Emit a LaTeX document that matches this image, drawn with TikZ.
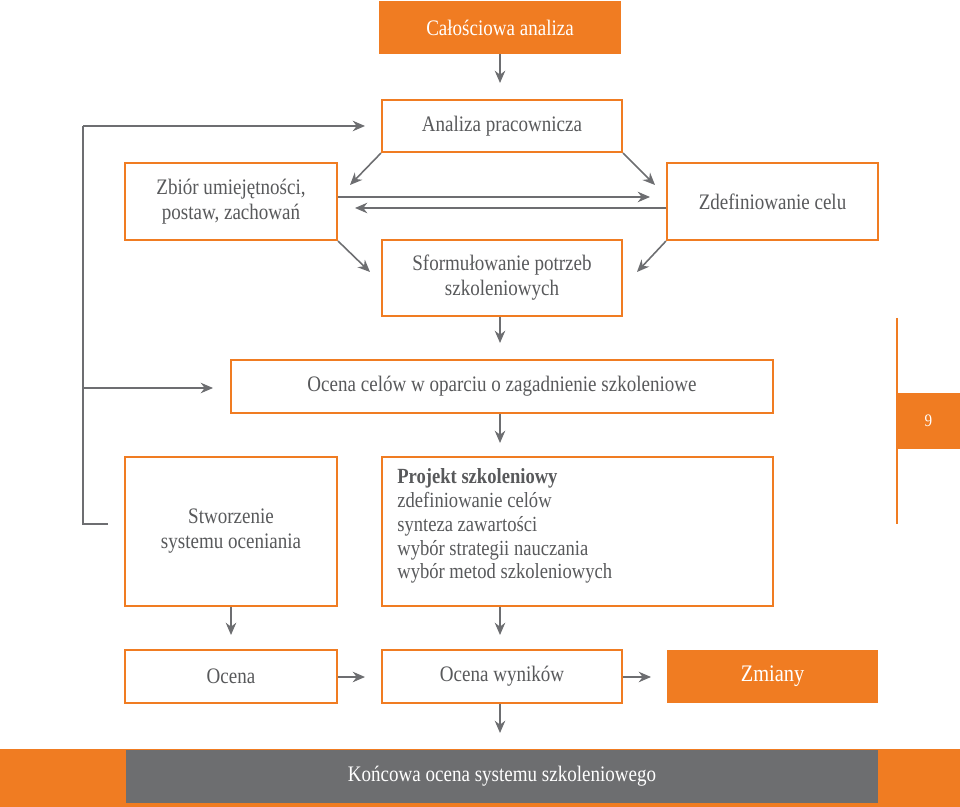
\documentclass[tikz,border=0pt]{standalone}
\usepackage{fontspec}
\setmainfont{Liberation Serif}[FakeStretch=0.86]
\usetikzlibrary{arrows.meta}
\definecolor{orng}{HTML}{F07C22}
\definecolor{txtg}{HTML}{58595B}
\definecolor{arrg}{HTML}{6D6E71}
\definecolor{bandg}{HTML}{6D6E70}
\tikzset{
  box/.style={draw=orng, line width=1.2pt, fill=white, text=txtg, align=center, inner sep=0pt, font=\fontsize{12.6}{14.2}\selectfont},
  obox/.style={box, fill=orng, text=white},
  arr/.style={draw=arrg, line width=0.9pt, -{Stealth[length=7pt,width=6pt]}},
  ln/.style={draw=arrg, line width=0.9pt},
}
\begin{document}
\begin{tikzpicture}[x=0.02cm,y=-0.02cm]
\useasboundingbox (0,0) rectangle (960,807);
% nodes
\node[obox, minimum width=4.8cm, minimum height=1.02cm] (top) at (500,27.5) {Całościowa analiza};
\node[box, minimum width=4.8cm, minimum height=1.04cm] (ap) at (502,126) {Analiza pracownicza};
\node[box, minimum width=4.24cm, minimum height=1.54cm] (zb) at (231,201.5) {Zbiór umiejętności,\\postaw, zachowań};
\node[box, minimum width=4.22cm, minimum height=1.54cm] (zc) at (772.5,201.5) {Zdefiniowanie celu};
\node[box, minimum width=4.8cm, minimum height=1.52cm] (sf) at (502,278) {Sformułowanie potrzeb\\szkoleniowych};
\node[box, minimum width=10.84cm, minimum height=1.06cm] (oc) at (502,386.5) {Ocena celów w oparciu o zagadnienie szkoleniowe};
\node[box, minimum width=4.24cm, minimum height=2.98cm] (sw) at (231,531.5) {Stworzenie\\systemu oceniania};
\node[box, minimum width=7.82cm, minimum height=2.98cm] (pr) at (577.5,531.5) {};
\node[anchor=north west, text=txtg, align=left, inner sep=0pt, font=\fontsize{12.3}{13.6}\selectfont] (prt) at (397,468)
  {{\bfseries Projekt szkoleniowy}\\zdefiniowanie celów\\synteza zawartości\\wybór strategii nauczania\\wybór metod szkoleniowych};
\node[box, minimum width=4.24cm, minimum height=1.06cm] (oce) at (231,676.5) {Ocena};
\node[box, minimum width=4.8cm, minimum height=1.06cm] (ow) at (502,676.5) {Ocena wyników};
\node[obox, draw=none, minimum width=4.22cm, minimum height=1.06cm, font=\fontsize{13.5}{15}\selectfont] (zm) at (772.5,676.5) {Zmiany};
% bottom band
\fill[orng] (0,749) rectangle (960,807);
\node[fill=bandg, text=white, minimum width=15.04cm, minimum height=1.06cm, inner sep=0pt, font=\fontsize{12.6}{14}\selectfont] (kon) at (502,776.5) {Końcowa ocena systemu szkoleniowego};
% right tab
\draw[orng, line width=0.8pt] (897,318) -- (897,524);
\node[fill=orng, text=white, minimum width=1.26cm, minimum height=1.12cm, inner sep=0pt, font=\fontsize{10}{12}\selectfont] (nine) at (928.5,421) {9};
% coordinates
\coordinate (t1) at (500,83);
\coordinate (d1) at (350,185);
\coordinate (d2) at (655,185);
\coordinate (h1) at (650,197);
\coordinate (h2) at (355,208);
\coordinate (d3) at (370,272);
\coordinate (d4) at (637,272);
\coordinate (t2) at (500,343);
\coordinate (t3) at (500,443);
\coordinate (fb0) at (108,524);
\coordinate (fb1) at (83,524);
\coordinate (fb2) at (83,126);
\coordinate (fb3) at (365,126);
\coordinate (fbb) at (83,388);
\coordinate (fbc) at (213,388);
\coordinate (t4) at (231,635);
\coordinate (t5) at (500,635);
\coordinate (h3) at (365,677);
\coordinate (h4) at (651,677);
\coordinate (t6) at (500,733);
% connectors
\draw[arr] (top.south -| t1) -- (t1);
\draw[arr] (ap.south west) -- (d1);
\draw[arr] (ap.south east) -- (d2);
\draw[arr] (zb.east |- h1) -- (h1);
\draw[arr] (zc.west |- h2) -- (h2);
\draw[arr] (zb.south east) -- (d3);
\draw[arr] (zc.south west) -- (d4);
\draw[arr] (sf.south -| t2) -- (t2);
\draw[arr] (oc.south -| t3) -- (t3);
\draw[ln] (fb0) -- (fb1) -- (fb2);
\draw[arr] (fb2) -- (fb3);
\draw[arr] (fbb) -- (fbc);
\draw[arr] (sw.south -| t4) -- (t4);
\draw[arr] (pr.south -| t5) -- (t5);
\draw[arr] (oce.east |- h3) -- (h3);
\draw[arr] (ow.east |- h4) -- (h4);
\draw[arr] (ow.south -| t6) -- (t6);
\end{tikzpicture}
\end{document}
